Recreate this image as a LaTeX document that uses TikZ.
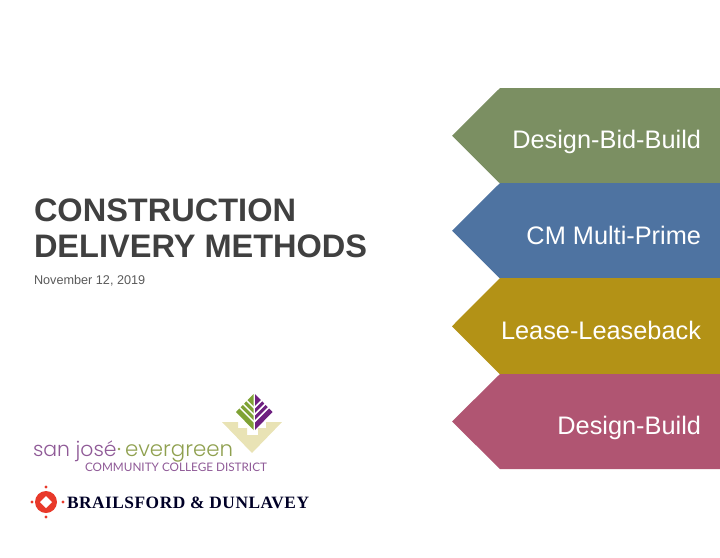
\documentclass[tikz,border=0pt]{standalone}
\usepackage{fontspec}
\usetikzlibrary{positioning}
\setmainfont{Liberation Sans}
\newfontfamily\logofont[UprightFont=* Light]{Poppins}
\newfontfamily\districtfont{Lato}
\newfontfamily\brandfont[LetterSpace=3]{Liberation Serif}
\definecolor{bidgreen}{HTML}{7B8F62}
\definecolor{primeblue}{HTML}{4E73A1}
\definecolor{leasegold}{HTML}{B39216}
\definecolor{buildrose}{HTML}{B05572}
\definecolor{titlegray}{HTML}{404040}
\definecolor{dategray}{HTML}{595959}
\definecolor{sjpurple}{HTML}{8F5A97}
\definecolor{sjgreen}{HTML}{8FA04F}
\definecolor{leafgreen}{HTML}{7FA235}
\definecolor{leafpurple}{HTML}{6E2080}
\definecolor{leafbeige}{HTML}{E9E3B5}
\definecolor{bdred}{HTML}{E8392A}

\begin{document}
\begin{tikzpicture}[x=0.75pt,y=-0.75pt,inner sep=0pt,outer sep=0pt]
          \tikzstyle{method}=[anchor=base east,text=white,font=\fontsize{19}{23}\selectfont]
          \useasboundingbox (0,0) rectangle (720,557);

          % chevrons
          \foreach \top/\bot/\col in {88/183.5/bidgreen,183/278.5/primeblue,278/374.5/leasegold,374/469/buildrose}
            \fill[\col] (720,\top) -- (500,\top) -- (452,{(\top+\bot)/2}) -- (500,\bot) -- (720,\bot) -- cycle;

          \node[method] (bid)   at (701,148) {Design-Bid-Build};
          \node[method] (prime) at (701,244) {CM Multi-Prime};
          \node[method] (lease) at (701,339) {Lease-Leaseback};
          \node[method] (build) at (701,434) {Design-Build};

          % title
          \node[anchor=north west,align=left,text=titlegray,font=\fontsize{24.4}{27}\selectfont\bfseries] (title) at (34,198.5)
            {CONSTRUCTION\\DELIVERY METHODS};
          \node[anchor=base west,text=dategray,font=\fontsize{9.5}{12}\selectfont] (date) at (34,284)
            {November 12, 2019};

          % district logo
          \fill[leafbeige] (222,422) -- (238,422) -- (238,428) -- (247,428) -- (247,435) -- (258,435)
            -- (258,428) -- (266,428) -- (266,422) -- (282,422) -- (252,453) -- cycle;
          \fill[leafgreen] (253.5,394) -- (236,412) -- (253.5,430) -- cycle;
          \fill[leafpurple] (255,394) -- (272.5,412) -- (255,430) -- cycle;
          \foreach \y in {408,415,422}{
            \draw[white,line width=1.1pt] (254.2,\y) -- (238,\y-16.2);
            \draw[white,line width=1.1pt] (254.2,\y) -- (270.4,\y-16.2);
          }
          \draw[white,line width=0.6pt] (254.2,392) -- (254.2,431);

          \node[anchor=base west,font=\logofont\fontsize{15.3}{18}\selectfont,text=sjpurple] (sanjose) at (33,456) {san josé};
          \node[anchor=base west,font=\logofont\fontsize{16}{18}\selectfont,text=sjgreen] (evergreen) at (125,456) {evergreen};
          \fill[sjgreen] (119,449) circle (1.3);
          \node[anchor=base west,font=\districtfont\fontsize{8.8}{12}\selectfont,text=sjpurple] (district) at (85,471) {COMMUNITY COLLEGE DISTRICT};

          % consultant logo
          \fill[bdred] (46,502) circle (11);
          \fill[white] (46,496) -- (52,502) -- (46,508) -- (40,502) -- cycle;
          \foreach \x/\y in {46/487,32/502,63/502,46/517}
            \fill[bdred] (\x,\y) circle (1.6);
          \node[anchor=base west,font=\brandfont\bfseries\fontsize{13}{15}\selectfont,text=black!85!blue] (brand) at (67,508) {BRAILSFORD \& DUNLAVEY};
        \end{tikzpicture}
\end{document}
